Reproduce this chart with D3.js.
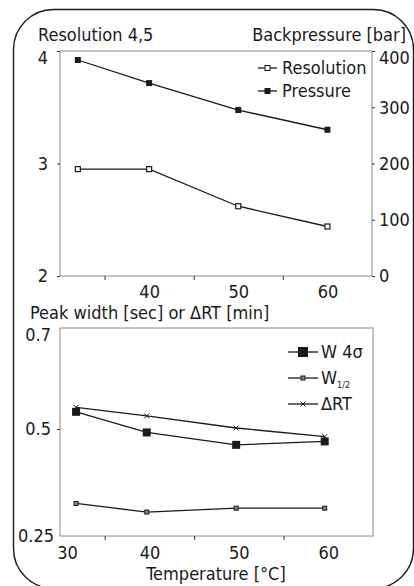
<!DOCTYPE html>
<html>
<head>
<meta charset="utf-8">
<script src="https://cdn.jsdelivr.net/npm/d3@7"></script>
<style>
  body { margin: 0; background: #fff; }
  svg { display: block; }
  text { font-family: "Liberation Sans Narrow", "DejaVu Sans Condensed", "Roboto Condensed", sans-serif; fill: #1a1a1a; }
</style>
</head>
<body>
<div id="chart"></div>
<script>
// Data
const temps = [32, 40, 50, 60];
const resolution = [2.95, 2.95, 2.62, 2.44];
const pressure = [384, 343, 295, 260];

const temps2 = [31.8, 39.7, 49.7, 59.6];
const w4sigma = [0.534, 0.492, 0.463, 0.471];
const wHalf = [0.326, 0.306, 0.315, 0.315];
const deltaRT = [0.543, 0.526, 0.502, 0.482];

const topXLabels = [40, 50, 60];
const bottomXLabels = [30, 40, 50, 60];
const minorX = [35, 45, 55];
const resTicks = [2, 3, 4];
const pressTicks = [0, 100, 200, 300, 400];
const widthTicks = [0.25, 0.5, 0.7];

const W = 414, H = 586;
const svg = d3.select("#chart").append("svg").attr("width", W).attr("height", H);

// outer rounded border
svg.append("rect")
  .attr("x", 13.5).attr("y", 9.5).attr("width", 400).attr("height", 579)
  .attr("rx", 40).attr("ry", 40)
  .attr("fill", "none").attr("stroke", "#1a1a1a").attr("stroke-width", 1.4);

const frameColor = "#8a8a8a";
const fs = 18;

// ---------- top panel ----------
const x1 = d3.scaleLinear().domain([30, 65]).range([60, 372]);
const yRes = d3.scaleLinear().domain([2, 4]).range([276, 51]);
const yPress = d3.scaleLinear().domain([0, 400]).range([276, 51]);

const topG = svg.append("g");
topG.append("rect").attr("x", 60).attr("y", 51).attr("width", 312).attr("height", 225)
  .attr("fill", "none").attr("stroke", frameColor).attr("stroke-width", 1);

// left axis
const yl = topG.append("g").attr("transform", "translate(60,0)")
  .call(d3.axisLeft(yRes).tickValues(resTicks).tickSize(3).tickPadding(9).tickFormat(d3.format("d")));
// right axis
const yr = topG.append("g").attr("transform", "translate(372,0)")
  .call(d3.axisRight(yPress).tickValues(pressTicks).tickSize(3).tickPadding(4).tickFormat(d3.format("d")));
// bottom axis
const xb1 = topG.append("g").attr("transform", "translate(0,276)")
  .call(d3.axisBottom(x1).tickValues(topXLabels).tickSize(0).tickPadding(9).tickFormat(d3.format("d")));
topG.append("g").attr("transform", "translate(0,276)")
  .call(d3.axisBottom(x1).tickValues(minorX).tickSize(4).tickFormat(""));

[yl, yr, xb1].forEach(a => {
  a.select(".domain").remove();
  a.selectAll("text").attr("font-size", fs).style("font-family", null);
});
topG.selectAll(".tick line").attr("stroke", "#333");
topG.selectAll(".domain").remove();
// nudge topmost labels below the axis titles
yl.selectAll(".tick text").filter(d => d === 4).attr("dy", "0.72em");
yr.selectAll(".tick text").filter(d => d === 400).attr("dy", "0.72em");

topG.append("text").attr("x", 38).attr("y", 41).attr("font-size", fs).text("Resolution 4,5");
topG.append("text").attr("x", 406).attr("y", 41).attr("font-size", fs).attr("text-anchor", "end").text("Backpressure [bar]");

const lineRes = d3.line().x((d, i) => x1(temps[i])).y(d => yRes(d));
const linePress = d3.line().x((d, i) => x1(temps[i])).y(d => yPress(d));

topG.append("path").attr("d", lineRes(resolution)).attr("fill", "none").attr("stroke", "#1a1a1a").attr("stroke-width", 1.3);
topG.append("path").attr("d", linePress(pressure)).attr("fill", "none").attr("stroke", "#1a1a1a").attr("stroke-width", 1.3);

topG.selectAll(".res-pt").data(resolution).join("rect")
  .attr("x", (d, i) => x1(temps[i]) - 2.5).attr("y", d => yRes(d) - 2.5)
  .attr("width", 5).attr("height", 5).attr("fill", "#fff").attr("stroke", "#1a1a1a").attr("stroke-width", 1.2);
topG.selectAll(".press-pt").data(pressure).join("rect")
  .attr("x", (d, i) => x1(temps[i]) - 3).attr("y", d => yPress(d) - 3)
  .attr("width", 6).attr("height", 6).attr("fill", "#1a1a1a");

// legend top
const leg1 = topG.append("g");
[["Resolution", "open"], ["Pressure", "filled"]].forEach((s, i) => {
  const y = 68 + i * 23;
  leg1.append("line").attr("x1", 258).attr("x2", 277).attr("y1", y).attr("y2", y).attr("stroke", "#1a1a1a").attr("stroke-width", 1.3);
  if (s[1] === "open") {
    leg1.append("rect").attr("x", 265).attr("y", y - 2.5).attr("width", 5).attr("height", 5)
      .attr("fill", "#fff").attr("stroke", "#1a1a1a").attr("stroke-width", 1);
  } else {
    leg1.append("rect").attr("x", 264.5).attr("y", y - 3).attr("width", 6).attr("height", 6).attr("fill", "#1a1a1a");
  }
  leg1.append("text").attr("x", 282).attr("y", y).attr("dy", "0.36em").attr("font-size", fs).text(s[0]);
});

// ---------- bottom panel ----------
const x2 = d3.scaleLinear().domain([30, 65]).range([60, 373]);
const yW = d3.scaleLinear().domain([0.25, 0.5, 0.7]).range([536, 429, 328]);

const botG = svg.append("g");
botG.append("rect").attr("x", 60).attr("y", 328).attr("width", 313).attr("height", 208)
  .attr("fill", "none").attr("stroke", frameColor).attr("stroke-width", 1);

const yl2 = botG.append("g").attr("transform", "translate(60,0)")
  .call(d3.axisLeft(yW).tickValues(widthTicks).tickSize(3).tickPadding(6).tickFormat(d => String(d)));
const xb2 = botG.append("g").attr("transform", "translate(0,536)")
  .call(d3.axisBottom(x2).tickValues(bottomXLabels).tickSize(0).tickPadding(10).tickFormat(d3.format("d")));
botG.append("g").attr("transform", "translate(0,536)")
  .call(d3.axisBottom(x2).tickValues(minorX).tickSize(4).tickFormat(""));
[yl2, xb2].forEach(a => {
  a.select(".domain").remove();
  a.selectAll("text").attr("font-size", fs).style("font-family", null);
});
botG.selectAll(".domain").remove();
botG.selectAll(".tick line").attr("stroke", "#333");
yl2.selectAll(".tick line").filter(d => d !== 0.5).remove();
yl2.selectAll(".tick text").filter(d => d === 0.7).attr("dy", "0.72em");
yl2.selectAll(".tick text").filter(d => d === 0.25).attr("dx", 3);
xb2.selectAll(".tick text").filter(d => d === 30).attr("dx", 7);

botG.append("text").attr("x", 30).attr("y", 319).attr("font-size", fs).text("Peak width [sec] or \u0394RT [min]");
botG.append("text").attr("x", 216).attr("y", 580).attr("font-size", fs).attr("text-anchor", "middle").text("Temperature [\u00B0C]");

const lineW = d3.line().x((d, i) => x2(temps2[i])).y(d => yW(d));
[w4sigma, wHalf, deltaRT].forEach(s => {
  botG.append("path").attr("d", lineW(s)).attr("fill", "none").attr("stroke", "#1a1a1a").attr("stroke-width", 1.3);
});

function crossAt(g, cx, cy, r) {
  g.append("path").attr("d", `M${cx - r},${cy - r}L${cx + r},${cy + r}M${cx - r},${cy + r}L${cx + r},${cy - r}`)
    .attr("stroke", "#1a1a1a").attr("stroke-width", 1).attr("fill", "none");
}

deltaRT.forEach((d, i) => crossAt(botG, x2(temps2[i]), yW(d), 2.5));
botG.selectAll(".w4").data(w4sigma).join("rect")
  .attr("x", (d, i) => x2(temps2[i]) - 4).attr("y", d => yW(d) - 4)
  .attr("width", 8).attr("height", 8).attr("fill", "#1a1a1a");
botG.selectAll(".wh").data(wHalf).join("rect")
  .attr("x", (d, i) => x2(temps2[i]) - 2).attr("y", d => yW(d) - 2)
  .attr("width", 4).attr("height", 4).attr("fill", "#888").attr("stroke", "#1a1a1a").attr("stroke-width", 1);

// legend bottom
const leg2 = botG.append("g");
const legItems = ["w4", "wh", "rt"];
legItems.forEach((k, i) => {
  const y = 352 + i * 26;
  leg2.append("line").attr("x1", 288).attr("x2", 318).attr("y1", y).attr("y2", y).attr("stroke", "#1a1a1a").attr("stroke-width", 1.3);
  const t = leg2.append("text").attr("x", 321).attr("y", y).attr("dy", "0.36em").attr("font-size", fs);
  if (k === "w4") {
    leg2.append("rect").attr("x", 298).attr("y", y - 5).attr("width", 10).attr("height", 10).attr("fill", "#1a1a1a");
    t.text("W 4\u03C3");
  } else if (k === "wh") {
    leg2.append("rect").attr("x", 301).attr("y", y - 2).attr("width", 4).attr("height", 4)
      .attr("fill", "#888").attr("stroke", "#1a1a1a").attr("stroke-width", 1);
    t.text("W");
    t.append("tspan").attr("font-size", 9).attr("dy", 4).text("1/2");
  } else {
    crossAt(leg2, 303, y, 2.5);
    t.text("\u0394RT");
  }
});
</script>
</body>
</html>
